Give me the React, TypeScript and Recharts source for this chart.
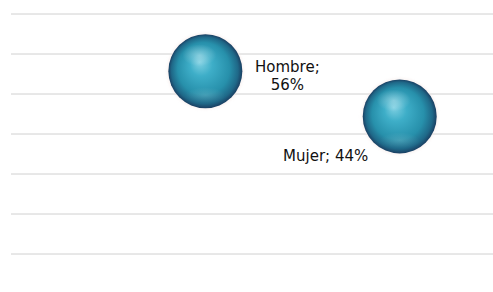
import { ScatterChart, Scatter, XAxis, YAxis, ZAxis, CartesianGrid } from "recharts";

const categories = ["Hombre", "Mujer"];
const percents = [56, 44];
const xValues = [1, 2];
const yValues = [45.7, 34.4];
const yTicks = [0, 10, 20, 30, 40, 50, 60];

const data = categories.map((name, i) => ({
  name,
  pct: percents[i],
  x: xValues[i],
  y: yValues[i],
}));

const R = 37;

const Bubble = (props: any) => {
  const { cx, cy, payload, index } = props;
  const label = `${payload.name}; ${payload.pct}%`;
  return (
    <g>
      <circle cx={cx} cy={cy} r={R + 1} fill="#f3e6e4" opacity={0.6} filter="url(#soft)" />
      <circle cx={cx} cy={cy} r={R} fill="url(#sphere)" />
      <ellipse cx={cx - 6} cy={cy - 16} rx={17} ry={11} fill="url(#shine)" />
      <ellipse cx={cx} cy={cy + 24} rx={20} ry={8} fill="url(#shine)" opacity={0.4} />
      {index === 0 ? (
        <text textAnchor="middle" fontSize={15} fill="#111" fontFamily="DejaVu Sans">
          <tspan x={cx + 82} y={cy + 1}>{payload.name};</tspan>
          <tspan x={cx + 82} y={cy + 19}>{payload.pct}%</tspan>
        </text>
      ) : (
        <text x={cx - 74} y={cy + 45} textAnchor="middle" fontSize={15} fill="#111" fontFamily="DejaVu Sans">
          {label}
        </text>
      )}
    </g>
  );
};

export default function App() {
  return (
    <div style={{ position: "absolute", left: 0, top: 0, background: "#fff" }}>
      <ScatterChart
        width={493}
        height={292}
        margin={{ top: 14, right: 0, bottom: 38, left: 11 }}
      >
        <defs>
          <radialGradient id="sphere" cx="50%" cy="50%" r="50%" fx="42%" fy="38%">
            <stop offset="0%" stopColor="#7fd0e2" />
            <stop offset="30%" stopColor="#3eaec8" />
            <stop offset="70%" stopColor="#2790ab" />
            <stop offset="90%" stopColor="#1f6888" />
            <stop offset="100%" stopColor="#1a3f62" />
          </radialGradient>
          <radialGradient id="shine" cx="50%" cy="50%" r="50%">
            <stop offset="0%" stopColor="#ffffff" stopOpacity={0.35} />
            <stop offset="100%" stopColor="#ffffff" stopOpacity={0} />
          </radialGradient>
          <filter id="soft" x="-20%" y="-20%" width="140%" height="140%">
            <feGaussianBlur stdDeviation="1.5" />
          </filter>
        </defs>
        <CartesianGrid vertical={false} stroke="#d0d0d0" strokeWidth={1} />
        <XAxis type="number" dataKey="x" domain={[0, 2.48]} hide />
        <YAxis type="number" dataKey="y" domain={[0, 60]} ticks={yTicks} hide />
        <ZAxis range={[4300, 4300]} />
        <Scatter data={data} shape={<Bubble />} isAnimationActive={false} />
      </ScatterChart>
    </div>
  );
}
